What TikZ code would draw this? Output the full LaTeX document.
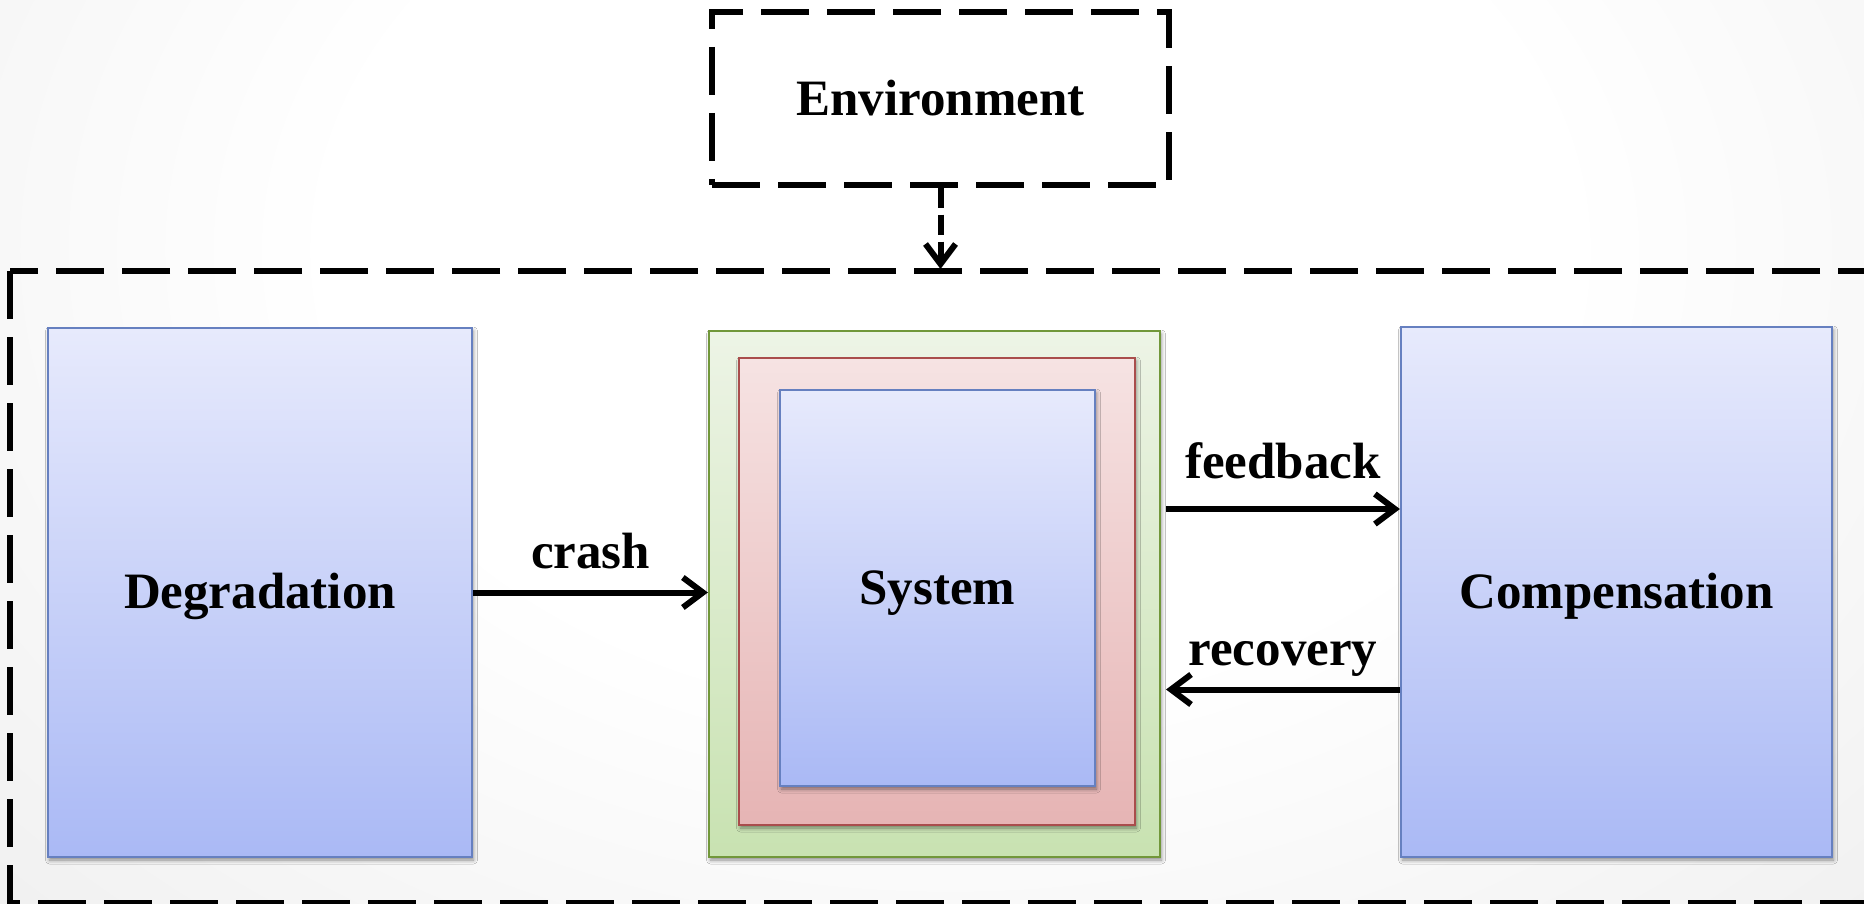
\documentclass[tikz,border=0pt]{standalone}
\usepackage{fontspec}
\setmainfont{Liberation Serif}
\usetikzlibrary{arrows.meta,shadows.blur}

% soft grey backdrop, white towards the upper middle
\pgfdeclareradialshading{backdrop}{\pgfpoint{0bp}{0bp}}{%
  color(0bp)=(white); color(7bp)=(white); color(28bp)=(black!15); color(50bp)=(black!15)}

\definecolor{blueedge}{HTML}{6680C0}
\definecolor{bluetop}{HTML}{E7EAFC}
\definecolor{bluebot}{HTML}{AAB9F5}
\definecolor{greenedge}{HTML}{71973A}
\definecolor{greentop}{HTML}{EDF4E6}
\definecolor{greenbot}{HTML}{C8E2B1}
\definecolor{rededge}{HTML}{A94D4C}
\definecolor{redtop}{HTML}{F6E3E3}
\definecolor{redbot}{HTML}{E6B4B4}

\begin{document}
\begin{tikzpicture}[x=1pt,y=-1pt,
  font=\fontsize{51}{60}\selectfont\bfseries,
  boxshadow/.style={blur shadow={shadow xshift=1.5pt,shadow yshift=-3pt,
      shadow blur radius=4pt,shadow opacity=45}},
  panel/.style={rectangle,line width=2.2pt,inner sep=0pt,boxshadow,
      text height=32pt,text depth=0pt},
  bluebox/.style={panel,draw=blueedge,top color=bluetop,bottom color=bluebot},
  greenbox/.style={panel,draw=greenedge,top color=greentop,bottom color=greenbot},
  redbox/.style={panel,draw=rededge,top color=redtop,bottom color=redbot},
  outline/.style={line width=5.5pt,dash pattern=on 48pt off 18pt},
  arr/.style={line width=6pt,-{Straight Barb[length=20pt,width=30pt]}},
  envarr/.style={line width=6pt,dash pattern=on 20pt off 7pt,
      -{Straight Barb[length=20pt,width=30pt]}},
  lbl/.style={midway,anchor=base,yshift=24pt},
]
\useasboundingbox (0,0) rectangle (1864,904);
\begin{scope}
  \clip (0,0) rectangle (1864,904);
  \shade[shading=backdrop] (950,250) ellipse [x radius=2200, y radius=1600];

  % the system boundary, running off the right and lower edges
  \draw[outline] (10,271) rectangle (1900,903);

  % environment
  \node[draw,outline,minimum width=457pt,minimum height=173pt,inner sep=0pt]
    (env) at (940.5,98.5) {Environment};
  \coordinate (sysin) at (940.5,269);
  \draw[envarr] (env.south) -- (sysin);

  % side blocks
  \node[bluebox,minimum width=424pt,minimum height=529pt] (deg) at (260,592.5) {Degradation};
  \node[bluebox,minimum width=431pt,minimum height=530pt] (comp) at (1616.5,592) {Compensation};

  % nested system layers
  \node[greenbox,minimum width=451pt,minimum height=526pt] (green) at (934.5,594) {};
  \node[redbox,minimum width=396pt,minimum height=467pt] (red) at (937,591.5) {};
  \node[bluebox,minimum width=315pt,minimum height=396pt] (sys) at (937.5,588) {System};

  % connectors
  \draw[arr] (deg.east) -- (deg.east -| green.west) node[lbl] {crash};
  \coordinate (fbk) at (1166,509);
  \coordinate (rcv) at (1166,689.5);
  \draw[arr] (fbk) -- (fbk -| comp.west) node[lbl,yshift=7pt] {feedback};
  \draw[arr] (rcv -| comp.west) -- (rcv) node[lbl] {recovery};
\end{scope}
\end{tikzpicture}
\end{document}
